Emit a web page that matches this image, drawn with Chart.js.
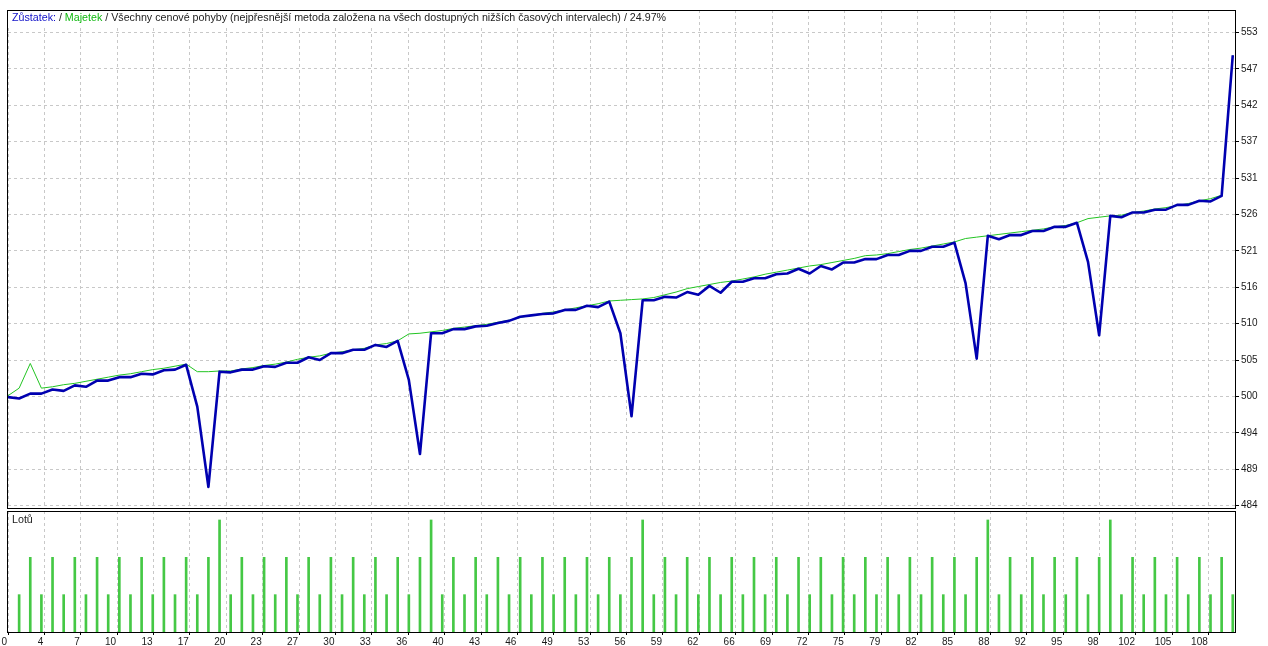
<!DOCTYPE html>
<html>
<head>
<meta charset="utf-8">
<script src="https://cdn.jsdelivr.net/npm/chart.js@4.4.1/dist/chart.umd.min.js"></script>
<style>
  html, body { margin: 0; padding: 0; background: #fff; overflow: hidden; }
  #wrap { position: relative; width: 1268px; height: 646px; }
  canvas { position: absolute; left: 0; }
  #mainChart { top: 0; }
  #lotsChart { top: 510px; }
</style>
</head>
<body>
<div id="wrap">
  <canvas id="mainChart" width="1268" height="510"></canvas>
  <canvas id="lotsChart" width="1268" height="136"></canvas>
</div>
<script>
// ----- Data (trade number = array index) -----
const balance = [
  500.0, 499.8, 500.5, 500.5, 501.1, 500.9, 501.7, 501.5, 502.4, 502.4,
  502.9, 502.9, 503.4, 503.3, 503.9, 504.0, 504.7, 498.6, 486.9, 503.7,
  503.6, 504.0, 504.0, 504.5, 504.4, 505.0, 505.0, 505.8, 505.4, 506.4,
  506.4, 506.9, 506.9, 507.6, 507.3, 508.2, 502.5, 491.7, 509.3, 509.3,
  509.9, 509.9, 510.3, 510.4, 510.8, 511.1, 511.7, 511.9, 512.1, 512.2,
  512.7, 512.7, 513.3, 513.1, 513.9, 509.3, 497.2, 514.1, 514.1, 514.6,
  514.5, 515.3, 514.9, 516.2, 515.2, 516.8, 516.8, 517.3, 517.3, 517.9,
  518.0, 518.7, 518.0, 519.1, 518.6, 519.6, 519.6, 520.1, 520.1, 520.7,
  520.7, 521.3, 521.3, 521.9, 521.9, 522.5, 516.6, 505.6, 523.5, 523.0,
  523.6, 523.6, 524.2, 524.2, 524.8, 524.8, 525.4, 519.7, 509.0, 526.4,
  526.2, 526.9, 526.9, 527.3, 527.3, 528.0, 528.0, 528.6, 528.5, 529.3,
  549.8
];
const equity = [
  500.2, 501.3, 504.9, 501.3, 501.5, 501.8, 502.0, 502.3, 502.6, 502.9,
  503.2, 503.4, 503.7, 504.0, 504.2, 504.5, 504.8, 503.7, 503.7, 503.8,
  503.8, 504.1, 504.3, 504.6, 504.8, 505.1, 505.5, 505.8, 506.0, 506.4,
  506.6, 506.9, 507.1, 507.6, 507.8, 508.2, 509.2, 509.3, 509.5, 509.7,
  510.0, 510.2, 510.4, 510.6, 510.9, 511.2, 511.6, 511.9, 512.2, 512.4,
  512.7, 513.0, 513.3, 513.6, 514.0, 514.1, 514.2, 514.3, 514.5, 514.9,
  515.3, 515.8, 516.1, 516.4, 516.7, 516.9, 517.2, 517.5, 517.9, 518.2,
  518.5, 518.8, 519.1, 519.3, 519.6, 519.9, 520.2, 520.6, 520.7, 520.9,
  521.2, 521.5, 521.7, 522.0, 522.3, 522.6, 523.1, 523.3, 523.5, 523.7,
  523.9, 524.1, 524.3, 524.5, 524.8, 525.0, 525.4, 526.0, 526.2, 526.4,
  526.5, 526.9, 527.1, 527.4, 527.6, 527.9, 528.2, 528.6, 528.9, 529.4,
  549.8
];
// lots for trades 1..110
const lots = [
  0.01,0.02,0.01,0.02,0.01,0.02,0.01,0.02,0.01,0.02,0.01,0.02,0.01,0.02,0.01,0.02,0.01,0.02,
  0.03,
  0.01,0.02,0.01,0.02,0.01,0.02,0.01,0.02,0.01,0.02,0.01,0.02,0.01,0.02,0.01,0.02,0.01,0.02,
  0.03,
  0.01,0.02,0.01,0.02,0.01,0.02,0.01,0.02,0.01,0.02,0.01,0.02,0.01,0.02,0.01,0.02,0.01,0.02,
  0.03,
  0.01,0.02,0.01,0.02,0.01,0.02,0.01,0.02,0.01,0.02,0.01,0.02,0.01,0.02,0.01,
  0.02,0.01,0.02,0.01,0.02,0.01,0.02,0.01,0.02,0.01,0.02,0.01,0.02,0.01,0.02,
  0.03,
  0.01,0.02,0.01,0.02,0.01,0.02,0.01,0.02,0.01,0.02,
  0.03,
  0.01,0.02,0.01,0.02,0.01,0.02,0.01,0.02,0.01,0.02,0.01
];
const xTickLabels = ['0','4','7','10','13','17','20','23','27','30','33','36','40','43','46','49','53','56',
  '59','62','66','69','72','75','79','82','85','88','92','95','98','102','105','108'];
const yTickValues = [484.2, 489.5, 494.8, 500.1, 505.4, 510.7, 516.0, 521.3, 526.6, 531.9, 537.2, 542.5, 547.8, 553.1];
const yTickLabels = ['484','489','494','500','505','510','516','521','526','531','537','542','547','553'];
const titleParts = [
  {text: 'Zůstatek:', color: '#1010c8'},
  {text: ' / ', color: '#222'},
  {text: 'Majetek', color: '#10b810'},
  {text: ' / Všechny cenové pohyby (nejpřesnější metoda založena na všech dostupných nižších časových intervalech) / 24.97%', color: '#222'}
];

// ----- Layout constants -----
const X_MAX = 110.2;
const X_GRID_STEP = 3.268;
const Y_MIN = 483.84, Y_MAX = 556.39;
const LOT_MAX = 0.0324;
const GRID = '#c8c8c8';
const LABEL_FONT = {family: 'Liberation Sans', size: 10};
const TEXT_FONT = '10.7px "Liberation Sans"';

function xGridTicks(scale){
  scale.ticks = xTickLabels.map((_, k) => ({value: k * X_GRID_STEP}));
}
function noPad(scale){
  scale.paddingTop = 0; scale.paddingBottom = 0;
  scale.paddingLeft = 0; scale.paddingRight = 0;
}

const framePlugin = {
  id: 'frame',
  afterDraw(chart){
    const {ctx, chartArea: a} = chart;
    ctx.save();
    ctx.strokeStyle = '#000';
    ctx.lineWidth = 1;
    ctx.strokeRect(a.left - 0.5, a.top + 0.5, a.right - a.left + 1, a.bottom - a.top);
    ctx.restore();
  }
};

const titlePlugin = {
  id: 'title',
  afterDraw(chart){
    const {ctx, chartArea: a} = chart;
    ctx.save();
    ctx.font = TEXT_FONT;
    ctx.textBaseline = 'middle';
    let w = 0;
    titleParts.forEach(p => w += ctx.measureText(p.text).width);
    ctx.fillStyle = '#fff';
    ctx.fillRect(a.left, a.top + 1, w + 8, 16);
    let x = a.left + 4;
    titleParts.forEach(p => {
      ctx.fillStyle = p.color;
      ctx.fillText(p.text, x, a.top + 8.5);
      x += ctx.measureText(p.text).width;
    });
    ctx.restore();
  }
};

const lotsLabelPlugin = {
  id: 'lotsLabel',
  afterDraw(chart){
    const {ctx, chartArea: a} = chart;
    ctx.save();
    ctx.font = TEXT_FONT;
    ctx.textBaseline = 'middle';
    ctx.fillStyle = '#222';
    ctx.fillText('Lotů', a.left + 4, a.top + 9.5);
    ctx.restore();
  }
};

// ----- Balance / equity chart -----
new Chart(document.getElementById('mainChart'), {
  type: 'line',
  data: {
    datasets: [
      {label: 'Zůstatek', data: balance.map((v, i) => ({x: i, y: v})), borderColor: '#0000b0',
       borderWidth: 2.6, pointRadius: 0, tension: 0, borderJoinStyle: 'round'},
      {label: 'Majetek', data: equity.map((v, i) => ({x: i, y: v})), borderColor: '#22c422',
       borderWidth: 1, pointRadius: 0, tension: 0}
    ]
  },
  options: {
    responsive: false, animation: false, events: [],
    layout: {padding: {left: 8, top: 10, right: 0, bottom: 0}},
    plugins: {legend: {display: false}, tooltip: {enabled: false}},
    scales: {
      x: {
        type: 'linear', min: 0, max: X_MAX, offset: false,
        afterBuildTicks: xGridTicks,
        afterFit: s => { s.height = 2; noPad(s); },
        ticks: {display: false},
        grid: {color: GRID, drawTicks: false},
        border: {display: false, dash: [3, 3]}
      },
      y: {
        position: 'right', min: Y_MIN, max: Y_MAX,
        afterBuildTicks: s => { s.ticks = yTickValues.map(v => ({value: v})); },
        afterFit: s => { s.width = 33; noPad(s); },
        ticks: {callback: (v, i) => yTickLabels[i], font: LABEL_FONT, color: '#1a1a1a', padding: 2, autoSkip: false},
        grid: {color: GRID, tickColor: '#000', tickLength: 4, tickBorderDash: []},
        border: {display: false, dash: [3, 3]}
      }
    }
  },
  plugins: [framePlugin, titlePlugin]
});

// ----- Lots chart -----
new Chart(document.getElementById('lotsChart'), {
  type: 'bar',
  data: {
    datasets: [{data: lots.map((v, k) => ({x: k + 1, y: v})), backgroundColor: '#45c845', barThickness: 2, borderWidth: 0}]
  },
  options: {
    responsive: false, animation: false, events: [],
    layout: {padding: {left: 8, top: 1, right: 33, bottom: 0}},
    plugins: {legend: {display: false}, tooltip: {enabled: false}},
    scales: {
      x: {
        type: 'linear', min: 0, max: X_MAX, offset: false,
        afterBuildTicks: xGridTicks,
        afterFit: s => { s.height = 14; noPad(s); },
        ticks: {callback: (v, i) => xTickLabels[i], align: 'end', labelOffset: -1, maxRotation: 0,
                autoSkip: false, font: LABEL_FONT, color: '#1a1a1a', padding: 1},
        grid: {color: GRID, tickColor: '#000', tickLength: 3, tickBorderDash: [], offset: false},
        border: {display: false, dash: [3, 3]}
      },
      y: {display: false, min: 0, max: LOT_MAX}
    }
  },
  plugins: [framePlugin, lotsLabelPlugin]
});
</script>
</body>
</html>
